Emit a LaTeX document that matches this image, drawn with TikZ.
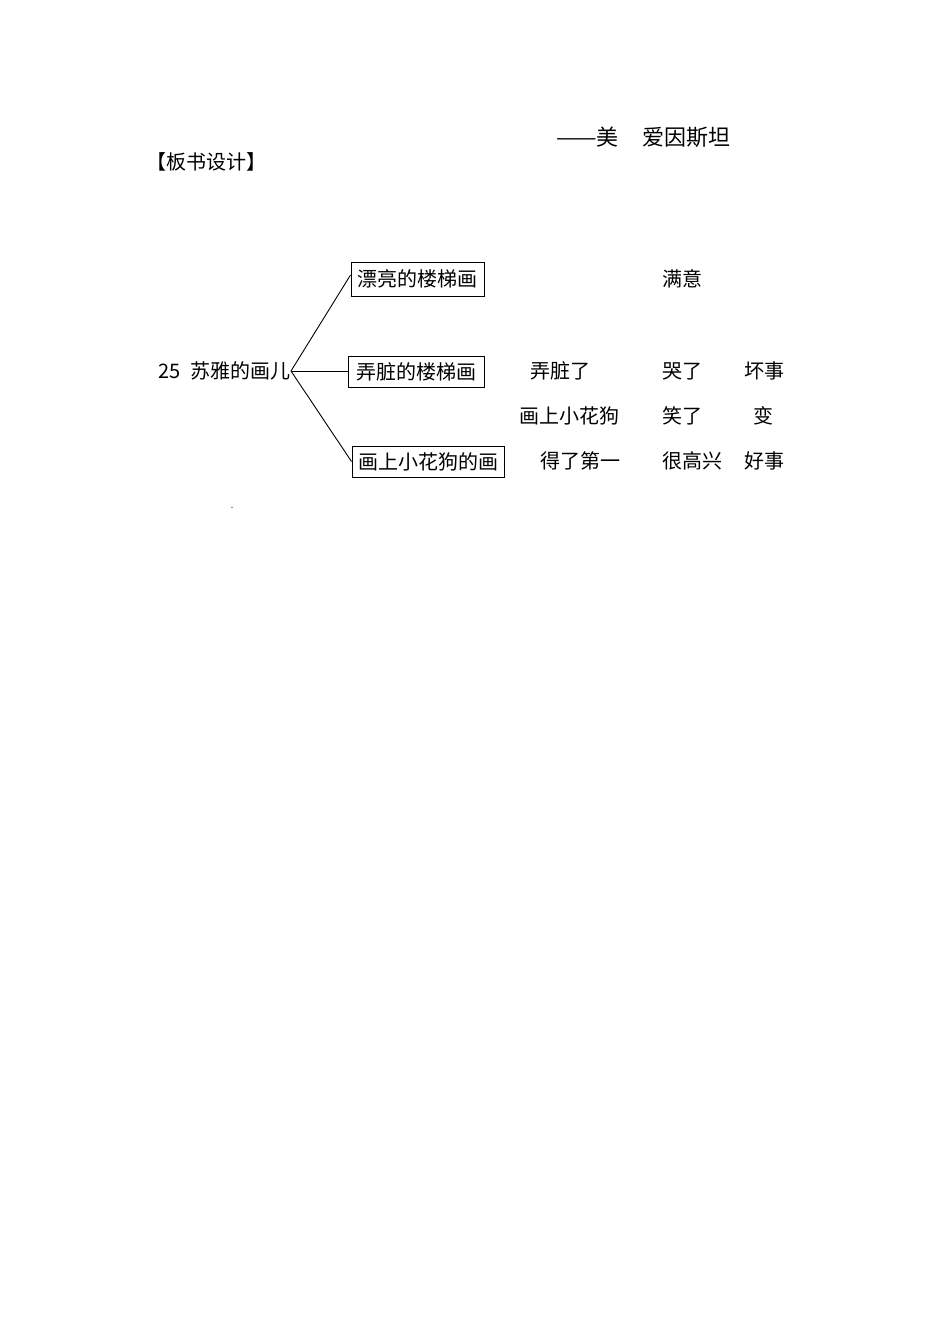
\documentclass[tikz,border=0pt]{standalone}
\usepackage{fontspec}
\setmainfont{Noto Sans CJK SC}
\newfontfamily\cjk{Noto Sans CJK SC}
\begin{document}
\begin{tikzpicture}[x=1pt,y=-1pt,
  lbl/.style={inner sep=0pt,anchor=center,font=\cjk\fontsize{20}{22}\selectfont},
  boxed/.style={draw,line width=1pt,inner sep=0pt,anchor=center,font=\cjk\fontsize{20}{22}\selectfont},
  conn/.style={line width=0.9pt}]
\useasboundingbox[fill=white] (0,0) rectangle (950,1344);
\node[lbl,anchor=west,font=\cjk\fontsize{22}{24}\selectfont] (auth) at (556,137) {\scalebox{1.1}[1]{——}美\hspace{1.1em}爱因斯坦};
\node[lbl] (bsj) at (206.5,162) {【板书设计】};
\node[lbl,anchor=east] (root) at (291,371) {25\hspace{0.5em}苏雅的画儿};
\node[boxed,minimum width=133pt,minimum height=34pt] (b1) at (417.5,279) {漂亮的楼梯画};
\node[boxed,minimum width=136pt,minimum height=31pt] (b2) at (416,371.5) {弄脏的楼梯画};
\node[boxed,minimum width=152pt,minimum height=31pt] (b3) at (428,461.5) {画上小花狗的画};
\coordinate (v) at (root.east);
\draw[conn] (v) -- ([yshift=4pt]b1.west);
\draw[conn] (v) -- (b2.west |- v);
\draw[conn] (v) -- (b3.west);
\node[lbl] (my) at (682.5,279) {满意};
\node[lbl] (nzl) at (560.5,371) {弄脏了};
\node[lbl] (kl) at (682.5,371) {哭了};
\node[lbl] (hs) at (764.5,371) {坏事};
\node[lbl] (hsxhg) at (569.5,416) {画上小花狗};
\node[lbl] (xl) at (682.5,416) {笑了};
\node[lbl] (bian) at (763,416) {变};
\node[lbl] (dldy) at (580,461) {得了第一};
\node[lbl] (hgx) at (692.5,461) {很高兴};
\node[lbl] (hao) at (764.5,461) {好事};
\node[inner sep=0pt,font=\fontsize{9}{9}\selectfont] (dot) at (232,508) {.};
\end{tikzpicture}
\end{document}
